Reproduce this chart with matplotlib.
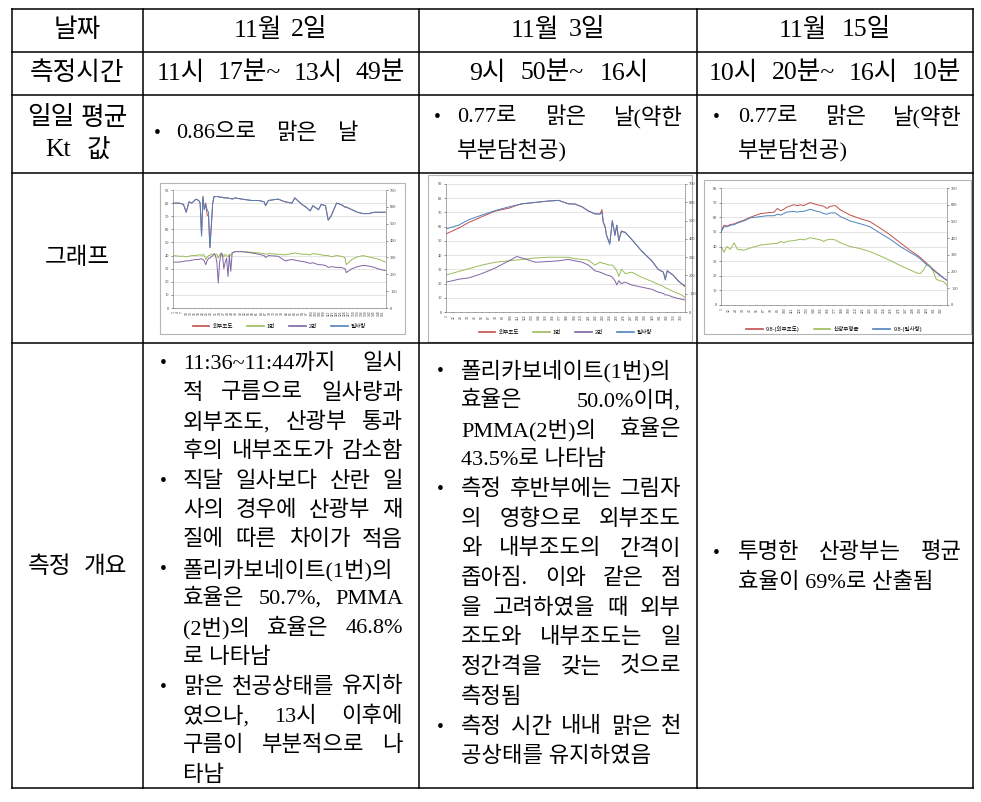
import matplotlib
matplotlib.use("Agg")
import matplotlib.pyplot as plt
from matplotlib.patches import Rectangle
from matplotlib.lines import Line2D
import numpy as np

# 본문 글꼴 (숫자는 세리프, 한글은 Noto)
plt.rcParams['font.family'] = ['Liberation Serif', 'Noto Sans CJK KR']
CHART_FONT = ['Liberation Sans', 'Noto Sans CJK KR']

W, H = 981, 802
BODY = 16
HEAD = 18.5

# ---------------- 그래프 데이터 ----------------
# 11월 2일 (분 단위 순번)
c1_x = [1, 5, 8, 10, 12, 14, 17, 19,
        20, 21, 22, 23, 24, 25, 26, 27, 28, 29, 30, 31, 32, 33, 34, 35, 36, 37, 38, 39, 40, 41, 42, 43,
        45, 50, 57, 62, 66, 67, 69, 76, 81, 86, 88, 93, 96, 99, 101, 105, 107, 110, 112, 114,
        118, 121, 124, 125, 129, 133, 137, 141, 145, 149, 153]
c1_out = [80, 80, 79, 73, 81, 80, 83, 82,
          80, 55, 85, 75, 80, 71, 70, 46, 62, 80, 85, 85, 85, 85, 84.5, 84.5, 84.5, 84, 84, 84, 84, 83.5, 83.5, 83,
          84, 83, 82, 82, 81, 78, 82, 83, 81, 80, 84, 79, 77, 74, 78, 75, 79, 78, 67, 70,
          80, 79, 77, 77, 75, 73, 72, 72, 73, 73, 73]
c1_no1 = [40, 39.5, 39.5, 39, 39.5, 40, 40, 40.5,
          40.5, 40, 41, 40, 37, 39, 40, 40, 41, 41, 41.5, 41, 41, 38, 41, 40, 41, 39, 41, 40, 39, 41, 40, 42,
          43, 43, 42.5, 42, 41.5, 41, 41.5, 41, 40.5, 41.5, 42, 41, 41, 40.5, 41.5, 41, 40.5, 40, 40, 39,
          40, 39.5, 38.5, 33, 37, 39, 40, 39, 38, 37, 35]
c1_no2 = [35, 35, 35.5, 36, 36, 36.5, 37, 37,
          37.5, 37.5, 37, 36, 33, 36, 38, 38, 39, 40, 41, 40, 35, 19, 35, 42, 41, 30, 35, 38, 24, 40, 28, 42,
          43, 43, 42, 41, 40, 38.5, 40, 39.5, 36, 37, 36.5, 35.5, 35, 34, 34.5, 33, 33, 32.5, 31, 31.5,
          31, 31, 30, 27, 30, 31.5, 32.5, 32, 31, 29.5, 28.5]
c1_sun = [622, 622, 615, 568, 630, 622, 646, 638,
          622, 428, 661, 583, 615, 583, 568, 358, 482, 622, 661, 661, 661, 661, 657, 657, 657, 653, 653, 653, 653, 650, 650, 646,
          653, 646, 638, 638, 630, 607, 638, 646, 630, 622, 653, 615, 599, 576, 607, 583, 615, 607, 521, 545,
          622, 615, 599, 599, 583, 568, 560, 560, 568, 568, 568]

# 11월 3일
c2_x = [1, 20, 36, 56, 77, 98, 110, 118, 139, 159,
        175, 190, 200, 211, 221, 231, 239, 242, 244, 247,
        249, 254, 258, 262, 265, 268, 272, 278, 288, 303,
        319, 329, 337, 340, 343, 352, 360, 365, 370]
c2_out = [55, 59, 63, 67, 71, 73, 75, 76, 77, 78,
          78.5, 76, 76, 74, 71, 69, 69, 72, 63, 60,
          54, 48, 64, 54, 61, 50, 57, 56, 51, 43,
          36, 30, 28, 23, 29, 26, 22, 20, 18]
c2_no1 = [26, 28.5, 30.5, 33, 35, 36, 36.5, 37, 38, 38.5,
          38.5, 38.5, 37.5, 37, 36.5, 33, 35, 34.5, 34, 34,
          33.5, 33, 33, 31, 29, 25, 30, 27, 28, 24.5,
          21.5, 19.5, 18, 17, 16.5, 14.5, 13, 12, 10.5]
c2_no2 = [21, 23, 24, 27, 31, 36, 39, 38, 35, 35.5,
          36, 37, 36, 35, 33, 29, 28, 27.5, 27, 26.5,
          26, 25.5, 24.5, 22, 19, 22, 20, 21, 19, 17.5,
          16, 14, 13, 12, 12, 10.5, 9.5, 9, 8.5]
c2_sun = [455, 475, 505, 530, 555, 575, 585, 592, 600, 607,
          610, 592, 590, 575, 553, 537, 535, 545, 490, 460,
          420, 370, 500, 420, 475, 390, 440, 435, 397, 335,
          280, 233, 218, 175, 225, 202, 170, 155, 145]

# 11월 15일
c3_x = [1, 5, 10, 15, 21, 26, 36, 46, 62, 72,
        83, 88, 93, 98, 103, 113, 119, 124, 129, 139,
        150, 155, 160, 165, 170, 178, 186, 201, 217, 232,
        248, 263, 279, 294, 304, 310, 315, 320, 325, 330,
        335, 341, 346, 351]
c3_out = [51, 54.5, 54, 55, 55.5, 56.5, 58, 60, 62.5, 63,
          63.5, 66, 64.5, 65.5, 67, 68.5, 68, 68.5, 68, 70,
          68.5, 68, 67.5, 66, 67.5, 68, 65, 61.5, 59, 57,
          52.5, 48, 42.5, 37.5, 34.5, 32.5, 30.5, 28.5, 26.5, 24.5,
          22.5, 20.5, 18.5, 17]
c3_dif = [40, 36, 40, 38, 42.5, 38, 37.5, 39, 41, 41.5,
          42, 42, 43.5, 42.5, 43.5, 44, 44.5, 45, 44.5, 46,
          45, 44.5, 43.5, 44.5, 45, 44.5, 42.5, 40, 38.5, 36.5,
          33.5, 30.5, 27, 24, 22, 21.5, 24, 27.5, 27, 23,
          17.5, 16.5, 16, 13.5]
c3_sun = [438, 468, 468, 477, 481, 490, 503, 521, 529, 534,
          534, 543, 538, 547, 556, 560, 556, 560, 560, 573,
          560, 556, 547, 543, 551, 551, 529, 503, 486, 468,
          429, 394, 350, 315, 293, 276, 258, 241, 228, 210,
          193, 175, 162, 149]

RED, GREEN, PURPLE, BLUE = '#C0504D', '#9BBB59', '#8064A2', '#4F81BD'

# ---------------- 표 ----------------
fig = plt.figure(figsize=(W / 100, H / 100), dpi=100)
ax = fig.add_axes([0, 0, 1, 1])
ax.set_xlim(0, W)
ax.set_ylim(H, 0)
ax.axis('off')
rend = fig.canvas.get_renderer()

cols = [12, 143, 419, 697, 973]
rows = [9, 52, 95, 173, 343, 788]
for x in cols:
    ax.plot([x, x], [rows[0], rows[-1]], color='black', lw=1.1, solid_capstyle='projecting')
for y in rows:
    ax.plot([cols[0], cols[-1]], [y, y], color='black', lw=1.1, solid_capstyle='projecting')


def center(x, y, s, size=HEAD):
    ax.text(x, y, s, fontsize=size, ha='center', va='center')


def spread(x0, x1, y, s, size=BODY):
    # 양쪽 정렬: 단어 사이 간격을 늘려 x0~x1 을 채움
    words = s.split(' ')
    if len(words) == 1:
        ax.text(x0, y, s, fontsize=size, va='center')
        return
    arts = [ax.text(0, y, w, fontsize=size, va='center') for w in words]
    ws = [a.get_window_extent(renderer=rend).width for a in arts]
    gap = max(3, (x1 - x0 - sum(ws)) / (len(words) - 1))
    x = x0
    for a, w in zip(arts, ws):
        a.set_x(x)
        x += w + gap


def para(bx, tx, x1, y0, pitch, paras, size=BODY):
    y = y0
    for p in paras:
        ax.text(bx, y, '•', fontsize=size - 2, va='center', ha='center')
        for s, just in p:
            if just:
                spread(tx, x1, y, s, size)
            else:
                ax.text(tx, y, s, fontsize=size, va='center')
            y += pitch


# 1, 2행
center(77, 30, '날짜')
spread(234, 327, 30, '11월 2일', HEAD)
spread(511, 605, 30, '11월 3일', HEAD)
spread(779, 891, 30, '11월 15일', HEAD)
center(77, 73, '측정시간')
spread(157, 405, 73, '11시 17분~ 13시 49분', HEAD)
spread(469, 649, 73, '9시 50분~ 16시', HEAD)
spread(709, 961, 73, '10시 20분~ 16시 10분', HEAD)

# 3행
spread(27, 128, 118, '일일 평균', HEAD)
spread(45, 110, 150, 'Kt 값', HEAD)
ax.text(157, 134, '•', fontsize=BODY - 2, va='center', ha='center')
spread(176, 358, 134, '0.86으로 맑은 날')
ax.text(437, 118, '•', fontsize=BODY - 2, va='center', ha='center')
spread(457, 683, 118, '0.77로 맑은 날(약한')
ax.text(457, 150, '부분담천공)', fontsize=BODY, va='center')
ax.text(716, 118, '•', fontsize=BODY - 2, va='center', ha='center')
spread(738, 962, 118, '0.77로 맑은 날(약한')
ax.text(738, 150, '부분담천공)', fontsize=BODY, va='center')

center(77, 258, '그래프', BODY + 1)
spread(28, 127, 567, '측정 개요', BODY + 1)

# 측정 개요
para(163, 183, 403, 364, 29.4, [
    [('11:36~11:44까지 일시', True), ('적 구름으로 일사량과', True),
     ('외부조도, 산광부 통과', True), ('후의 내부조도가 감소함', True)],
    [('직달 일사보다 산란 일', True), ('사의 경우에 산광부 재', True),
     ('질에 따른 차이가 적음', True)],
    [('폴리카보네이트(1번)의', False), ('효율은 50.7%, PMMA', True),
     ('(2번)의 효율은 46.8%', True), ('로 나타남', False)],
    [('맑은 천공상태를 유지하', True), ('였으나, 13시 이후에', True),
     ('구름이 부분적으로 나', True), ('타남', False)],
])
para(440, 461, 681, 371, 29.7, [
    [('폴리카보네이트(1번)의', False), ('효율은 50.0%이며,', True),
     ('PMMA(2번)의 효율은', True), ('43.5%로 나타남', False)],
    [('측정 후반부에는 그림자', True), ('의 영향으로 외부조도', True),
     ('와 내부조도의 간격이', True), ('좁아짐. 이와 같은 점', True),
     ('을 고려하였을 때 외부', True), ('조도와 내부조도는 일', True),
     ('정간격을 갖는 것으로', True), ('측정됨', False)],
    [('측정 시간 내내 맑은 천', True), ('공상태를 유지하였음', False)],
])
para(716, 738, 962, 553, 30, [
    [('투명한 산광부는 평균', True), ('효율이 69%로 산출됨', False)],
])


# ---------------- 그래프 ----------------
def chart(box, plot, xs, lefts, rights, lmax, rmax, n, step, leg_y):
    x0, y0, x1, y1 = box
    ax.add_patch(Rectangle((x0, y0), x1 - x0, y1 - y0, fc='white', ec='#b5b5b5', lw=0.8))
    px0, py0, px1, py1 = plot
    a = fig.add_axes([px0 / W, 1 - py1 / H, (px1 - px0) / W, (py1 - py0) / H])
    handles, labels = [], []
    for vals, col, lab in lefts:
        a.plot(xs, vals, color=col, lw=0.7)
        handles.append(Line2D([], [], color=col, lw=1.2))
        labels.append(lab)
    a.set_xlim(0.5, n + 0.5)
    a.set_ylim(0, lmax)
    a.set_yticks(range(0, lmax + 1, 10))
    a.grid(axis='y', color='#d9d9d9', lw=0.5)
    a.set_axisbelow(True)
    ticks = np.arange(1, n + 1, step)
    a.set_xticks(ticks)
    a.set_xticklabels([str(t) for t in ticks], rotation=90, fontsize=2.4,
                      family=CHART_FONT, color='#404040')
    a.tick_params(axis='y', labelsize=3.2, length=1.5, width=0.4, pad=1.5, colors='#404040')
    a.tick_params(axis='x', length=1, width=0.3, pad=1)
    for side in ['top', 'right']:
        a.spines[side].set_visible(False)
    for side in ['left', 'bottom']:
        a.spines[side].set_color('#868686')
        a.spines[side].set_linewidth(0.5)
    b = a.twinx()
    for vals, col, lab in rights:
        b.plot(xs, vals, color=col, lw=0.7)
        handles.append(Line2D([], [], color=col, lw=1.2))
        labels.append(lab)
    b.set_ylim(0, rmax)
    b.set_yticks(range(0, rmax + 1, 100))
    b.tick_params(axis='y', labelsize=3.2, length=1.5, width=0.4, pad=1.5, colors='#404040')
    for side in ['top', 'left', 'bottom']:
        b.spines[side].set_visible(False)
    b.spines['right'].set_color('#868686')
    b.spines['right'].set_linewidth(0.5)
    fig.legend(handles, labels, loc='center', bbox_to_anchor=((px0 + px1) / 2 / W, 1 - leg_y / H),
               ncol=len(labels), frameon=False, prop={'family': CHART_FONT, 'size': 4},
               handlelength=3, columnspacing=2.5, handletextpad=0.6)


chart((160, 183, 405, 334), (173, 190, 386, 308), c1_x,
      [(c1_out, RED, '외부조도'), (c1_no1, GREEN, '1번'), (c1_no2, PURPLE, '2번')],
      [(c1_sun, BLUE, '일사량')], 90, 700, 153, 3, 326)
chart((428, 175, 692, 342), (446, 184, 685, 312), c2_x,
      [(c2_out, RED, '외부조도'), (c2_no1, GREEN, '1번'), (c2_no2, PURPLE, '2번')],
      [(c2_sun, BLUE, '일사량')], 90, 700, 370, 11, 332)
chart((704, 180, 971, 334), (721, 188, 947, 305), c3_x,
      [(c3_out, RED, '9.8-(외부조도)'), (c3_dif, GREEN, '산광부평균')],
      [(c3_sun, BLUE, '9.8-(일사량)')], 80, 700, 351, 11, 329)

fig.savefig('out.png', dpi=100)
